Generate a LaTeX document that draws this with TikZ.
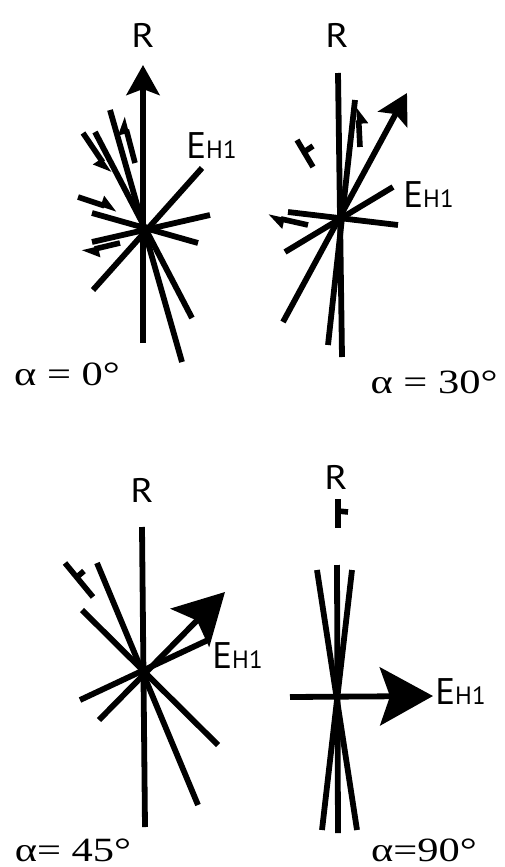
\documentclass[tikz,border=0pt]{standalone}
\usepackage{fontspec}
\setmainfont{Liberation Serif}
\newfontfamily\labfont{PT Sans}
\usetikzlibrary{arrows.meta}
\newcommand{\ehone}{E{\fontsize{12.5}{13}\selectfont H1}}
\begin{document}
\begin{tikzpicture}[x=0.5pt,y=-0.5pt]
\tikzset{
  ray/.style={line width=2.9pt, line cap=butt},
  harp/.style={line width=2.8pt, line cap=butt},
  lab/.style={inner sep=0pt, font=\labfont\fontsize{17}{17}\selectfont},
  elab/.style={inner sep=0pt, anchor=base west, font=\labfont\fontsize{18.5}{19}\selectfont},
  alab/.style={inner sep=0pt, font=\fontsize{17}{17}\selectfont},
  tipA/.style={-{Stealth[length=15pt,width=16.5pt,inset=3pt]}},
  tipB/.style={-{Stealth[length=25pt,width=27pt,inset=5pt]}},
  hl/.style={-{Triangle[left,length=7pt,width=9pt]}},
  hr/.style={-{Triangle[right,length=7pt,width=9pt]}}
}
\useasboundingbox (0,0) rectangle (504,867);
% ---------- panel 1: alpha = 0 ----------
\draw[ray] (110,110) -- (182,362);
\draw[ray] (95,132) -- (192,318);
\draw[ray] (202,168) -- (93,290);
\draw[ray] (210,215) -- (92,242);
\draw[ray] (92,213) -- (198,243);
\draw[ray,tipA] (143,343) -- (143,65);
\draw[harp,hl] (135,163) -- (123,117);
\draw[harp,hr] (83,133) -- (110,173);
\draw[harp,hl] (78,197) -- (117,210);
\draw[harp,hl] (120,243) -- (82,252);
\node[lab] (R1) at (143,35) {\scalebox{1.15}[1]{R}};
\node[elab] (E1) at (186,158) {\ehone};
\node[alab] (a1) at (67,374) {\scalebox{1.25}[1]{α = 0°}};
% ---------- panel 2: alpha = 30 ----------
\draw[ray] (338,73) -- (342,357);
\draw[ray] (355,100) -- (328,345);
\draw[ray] (393,187) -- (285,252);
\draw[ray] (288,212) -- (398,225);
\draw[ray,tipA] (283,322) -- (407,93);
\draw[harp,hl] (308,225) -- (268,216);
\draw[harp,hr] (360,147) -- (358,107);
\draw[harp] (297,140) -- (313,167);
\draw[harp] (304,152) -- (313,146);
\node[lab] (R2) at (337,35) {\scalebox{1.15}[1]{R}};
\node[elab] (E2) at (403,207) {\ehone};
\node[alab] (a2) at (434,382) {\scalebox{1.25}[1]{α = 30°}};
% ---------- panel 3: alpha = 45 ----------
\draw[ray] (142,527) -- (145,827);
\draw[ray] (97,563) -- (198,805);
\draw[ray] (82,610) -- (218,745);
\draw[ray] (80,700) -- (208,640);
\draw[ray,tipB] (99,720) -- (225,592);
\draw[harp] (65,563) -- (93,597);
\draw[harp] (77,577) -- (84,571);
\node[lab] (R3) at (142,490) {\scalebox{1.15}[1]{R}};
\node[elab] (E3) at (212,668) {\ehone};
\node[alab] (a3) at (73,850) {\scalebox{1.25}[1]{α= 45°}};
% ---------- panel 4: alpha = 90 ----------
\draw[ray] (337,565) -- (338,833);
\draw[ray] (317,570) -- (357,830);
\draw[ray] (352,570) -- (322,830);
\draw[ray,-{Stealth[length=26.5pt,width=29pt,inset=5pt]}] (290,697) -- (433,696);
\draw[harp] (338,499) -- (338,528);
\draw[harp] (338,511) -- (348,512);
\node[lab] (R4) at (336,477) {\scalebox{1.15}[1]{R}};
\node[elab] (E4) at (435,704) {\ehone};
\node[alab] (a4) at (424,850) {\scalebox{1.25}[1]{α=90°}};
\end{tikzpicture}
\end{document}
